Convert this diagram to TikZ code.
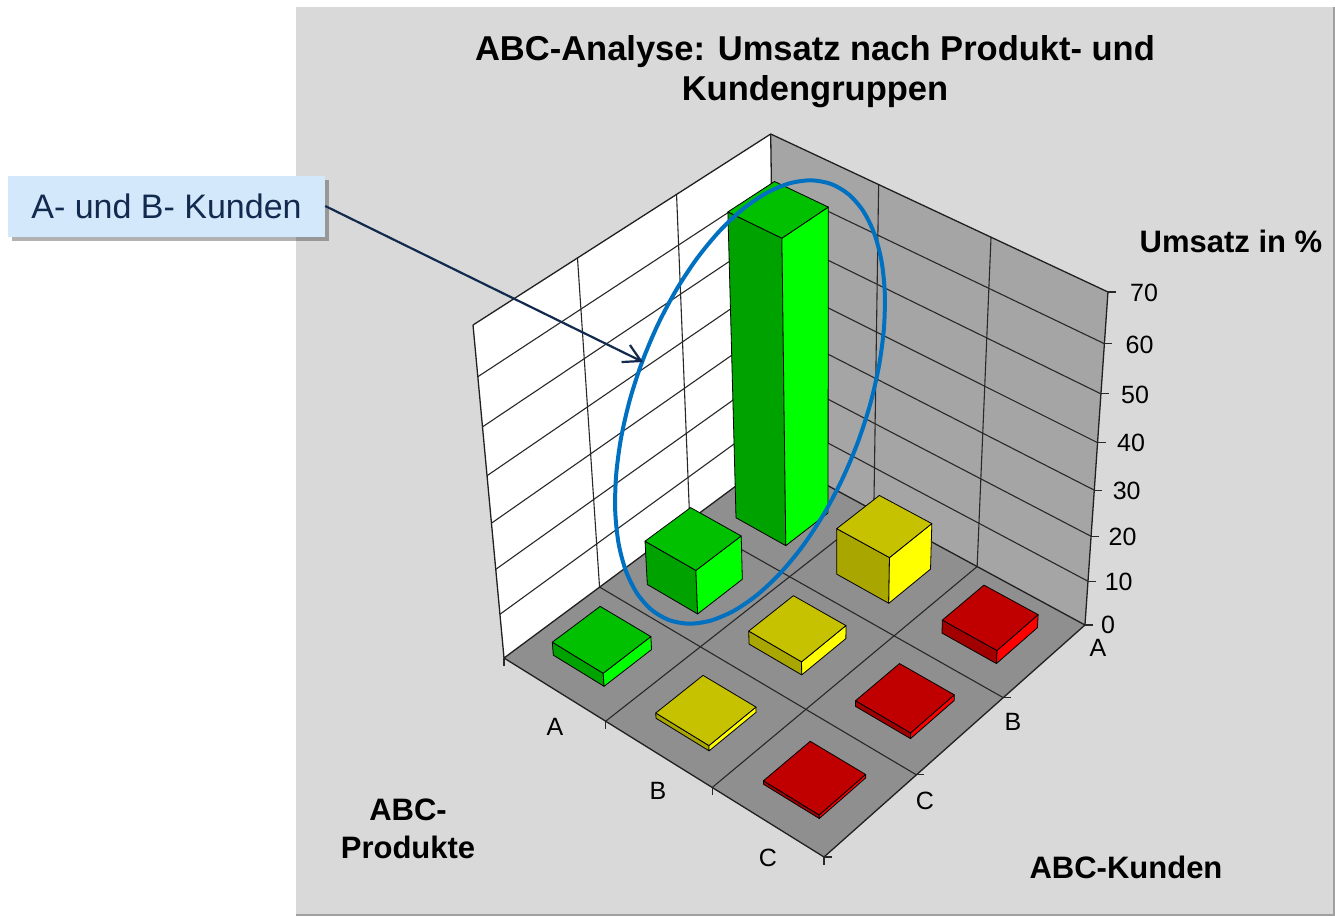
\documentclass[tikz,border=0pt]{standalone}
\usepackage{fontspec}
\setmainfont{Liberation Sans}
\usetikzlibrary{arrows.meta,shadows}

\definecolor{chartbg}{RGB}{217,217,217}
\definecolor{chartrim}{RGB}{160,160,160}
\definecolor{wallR}{RGB}{165,165,165}
\definecolor{floorc}{RGB}{143,143,143}
\definecolor{gridc}{RGB}{40,40,40}
\definecolor{gTop}{RGB}{0,192,0}
\definecolor{gLeft}{RGB}{0,162,0}
\definecolor{gRight}{RGB}{0,255,0}
\definecolor{yTop}{RGB}{198,194,0}
\definecolor{yLeft}{RGB}{170,166,0}
\definecolor{yRight}{RGB}{255,255,0}
\definecolor{rTop}{RGB}{192,0,0}
\definecolor{rLeft}{RGB}{162,0,0}
\definecolor{rRight}{RGB}{255,0,0}
\definecolor{calloutfill}{RGB}{212,232,252}
\definecolor{navy}{RGB}{18,42,78}
\definecolor{ringblue}{RGB}{0,112,192}

% projection of a chart point: u = customer depth (0 back .. 1 front-left),
% v = product depth (0 back .. 1 front-right), value in percent
\newcommand\projpt[4]{%
  \pgfmathsetmacro\pjD{1-0.08249*(#2)-0.06283*(#3)}%
  \pgfmathsetmacro\pjW{(#4)/70}%
  \pgfmathsetmacro\pjG{\pjW/(1.102-0.102*\pjW)}%
  \pgfmathsetmacro\pjX{(775-312.57*(#2)+241.83*(#3))/\pjD+\pjG*(-4.3-26.7*(#2)+27.3*(#3))}%
  \pgfmathsetmacro\pjY{(457+146.72*(#2)+128.73*(#3))/\pjD+\pjG*(-323-10*(#2)-10*(#3))}%
  \coordinate (#1) at (\pjX,\pjY);%
}

% one 3-D column: customer index, product index, value, colour prefix
\newcommand\abcbox[4]{%
  \pgfmathsetmacro\bxua{#1/3+1/12}%
  \pgfmathsetmacro\bxub{#1/3+1/4}%
  \pgfmathsetmacro\bxva{#2/3+1/12}%
  \pgfmathsetmacro\bxvb{#2/3+1/4}%
  \projpt{p10}{\bxub}{\bxva}{0}%
  \projpt{p11}{\bxub}{\bxvb}{0}%
  \projpt{p01}{\bxua}{\bxvb}{0}%
  \projpt{q00}{\bxua}{\bxva}{#3}%
  \projpt{q10}{\bxub}{\bxva}{#3}%
  \projpt{q11}{\bxub}{\bxvb}{#3}%
  \projpt{q01}{\bxua}{\bxvb}{#3}%
  \draw[boxedge, fill=#4Left]  (p10) -- (p11) -- (q11) -- (q10) -- cycle;
  \draw[boxedge, fill=#4Right] (p11) -- (p01) -- (q01) -- (q11) -- cycle;
  \draw[boxedge, fill=#4Top]   (q00) -- (q10) -- (q11) -- (q01) -- cycle;
}

\begin{document}
\begin{tikzpicture}[x=1pt,y=-1pt,
  gridline/.style={draw=gridc, line width=1.1pt},
  rimline/.style={draw=gridc!80!black, line width=1.3pt},
  tickline/.style={draw=gridc, line width=1.1pt},
  boxedge/.style={draw=black, line width=0.8pt, line join=round},
  ticklbl/.style={font=\fontsize{25}{30}\selectfont, inner sep=0pt},
  axisname/.style={font=\bfseries\fontsize{31}{38}\selectfont, align=center, inner sep=0pt},
  callout/.style={fill=calloutfill, text=navy, inner sep=0pt,
    minimum width=317pt, minimum height=61pt,
    font=\fontsize{34}{40}\selectfont,
    drop shadow={shadow xshift=4pt, shadow yshift=-4pt, fill=black, opacity=0.3}},
  pointer/.style={draw=navy, line width=2.2pt, -{Straight Barb[length=17pt,width=19pt,line width=2.2pt]}},
  ring/.style={draw=ringblue, line width=4pt}]

\useasboundingbox (0,0) rectangle (1335,916);
\fill[white] (0,0) rectangle (1335,916);

% chart area
\fill[chartbg] (296,7) rectangle (1334,915);
\draw[chartrim, line width=1.5pt] (296,915) -- (1334,915) -- (1334,7);

% walls and floor
\projpt{O}{0}{0}{0}
\projpt{L}{1}{0}{0}
\projpt{R}{0}{1}{0}
\projpt{F}{1}{1}{0}
\projpt{Ot}{0}{0}{70}
\projpt{Lt}{1}{0}{70}
\projpt{Rt}{0}{1}{70}
\fill[white] (O) -- (L) -- (Lt) -- (Ot) -- cycle;
\fill[wallR] (O) -- (R) -- (Rt) -- (Ot) -- cycle;
\fill[floorc] (O) -- (L) -- (F) -- (R) -- cycle;

% horizontal wall grid lines every 10 %
\foreach \k in {1,...,6} {
  \projpt{ga}{1}{0}{\k*10}
  \projpt{gb}{0}{0}{\k*10}
  \projpt{gc}{0}{1}{\k*10}
  \draw[gridline] (ga) -- (gb) -- (gc);
}
% vertical wall grid lines and floor grid
\foreach \s in {1/3,2/3} {
  \projpt{la}{\s}{0}{0}
  \projpt{lb}{\s}{0}{70}
  \draw[gridline] (la) -- (lb);
  \projpt{ra}{0}{\s}{0}
  \projpt{rb}{0}{\s}{70}
  \draw[gridline] (ra) -- (rb);
  \projpt{fa}{\s}{1}{0}
  \draw[gridline] (la) -- (fa);
  \projpt{fb}{1}{\s}{0}
  \draw[gridline] (ra) -- (fb);
}

% wall and floor outlines
\draw[rimline] (Lt) -- (Ot) -- (Rt);
\draw[rimline] (O) -- (Ot);
\draw[rimline] (L) -- (O) -- (R);
\draw[rimline] (Lt) -- (L) -- (F) -- (R) -- (Rt);

% ticks
\foreach \s in {0,1/3,2/3,1} {
  \projpt{tp}{1}{\s}{0}
  \draw[tickline] (tp) -- ++(0,8);
  \projpt{tc}{\s}{1}{0}
  \draw[tickline] (tc) -- ++(8,0);
}
\foreach \k in {1,...,7} {
  \projpt{tv}{0}{1}{\k*10}
  \draw[tickline] (tv) -- ++(8,0);
}

% columns, back to front
\abcbox{0}{0}{66}{g}
\abcbox{1}{0}{10}{g}
\abcbox{0}{1}{10.5}{y}
\abcbox{2}{0}{3}{g}
\abcbox{1}{1}{3}{y}
\abcbox{0}{2}{3}{r}
\abcbox{2}{1}{1.2}{y}
\abcbox{1}{2}{1.3}{r}
\abcbox{2}{2}{0.8}{r}

% value axis labels
\node[ticklbl] (val0)  at (1108,625)   {0};
\node[ticklbl] (val10) at (1118.7,582) {10};
\node[ticklbl] (val20) at (1122.5,537) {20};
\node[ticklbl] (val30) at (1126.7,491) {30};
\node[ticklbl] (val40) at (1131,443)   {40};
\node[ticklbl] (val50) at (1135,395)   {50};
\node[ticklbl] (val60) at (1139.5,345) {60};
\node[ticklbl] (val70) at (1144,293)   {70};

% category labels
\node[ticklbl] (prodA) at (555,727) {A};
\node[ticklbl] (prodB) at (658,791) {B};
\node[ticklbl] (prodC) at (768,858) {C};
\node[ticklbl] (custC) at (925,801) {C};
\node[ticklbl] (custB) at (1013,722) {B};
\node[ticklbl] (custA) at (1098,648) {A};

% titles
\node[font=\bfseries\fontsize{34.5}{40}\selectfont, align=center, inner sep=0pt] (title) at (815,72)
  {ABC-Analyse: Umsatz nach Produkt- und\\Kundengruppen};
\node[axisname] (zname) at (1231,241) {Umsatz in \%};
\node[axisname] (yname) at (408,829) {ABC-\\Produkte};
\node[axisname] (xname) at (1126,867) {ABC-Kunden};

% highlight ring and callout
\draw[ring] plot[smooth cycle, domain=0:350, samples=36, variable=\t]
  ({750+81.08*cos(\t)+107.88*sin(\t)}, {402-218.02*cos(\t)+40.12*sin(\t)});
\node[callout] (call) at (166.5,206) {A- und B- Kunden};
\coordinate (tip) at (643,362);
\draw[pointer] (call.east) -- (tip);
\end{tikzpicture}
\end{document}
